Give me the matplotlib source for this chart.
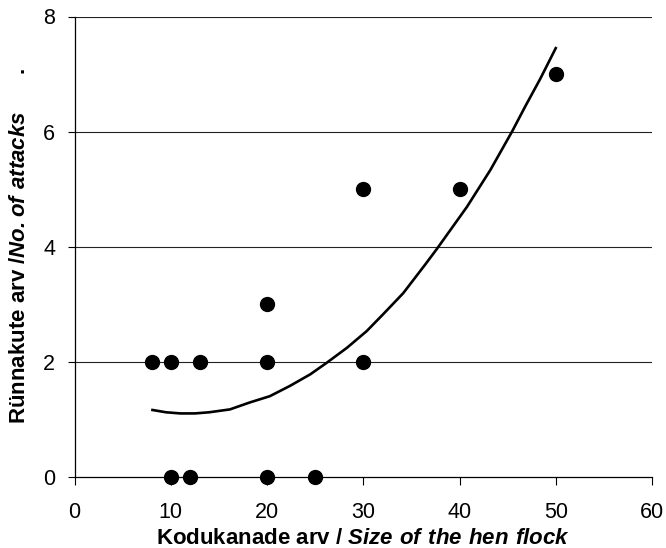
import numpy as np
import matplotlib.pyplot as plt

plt.rcParams['font.family'] = ['Liberation Sans', 'DejaVu Sans']
plt.rcParams['mathtext.fontset'] = 'custom'
plt.rcParams['mathtext.rm'] = 'Liberation Sans'
plt.rcParams['mathtext.bf'] = 'Liberation Sans:bold'
plt.rcParams['mathtext.bfit'] = 'Liberation Sans:italic:bold'

# vaatlused (kodukanade arv, rünnakute arv)
flock = [8, 10, 13, 10, 12, 20, 20, 20, 25, 30, 30, 40, 50]
attacks = [2, 2, 2, 0, 0, 0, 2, 3, 0, 5, 2, 5, 7]

# trendijoon, loetud pildilt
curve_x = [8.1, 9.5, 11.0, 12.5, 14.0, 16.15, 18.2, 20.3, 22.4, 24.5, 26.2,
           28.3, 30.35, 32.1, 34.15, 36.4, 37.65, 40.77, 43.2, 45.46, 46.84,
           48.4, 50.0]
curve_y = [1.16, 1.12, 1.10, 1.10, 1.12, 1.17, 1.29, 1.40, 1.58, 1.78, 1.98,
           2.24, 2.53, 2.83, 3.19, 3.68, 3.96, 4.69, 5.33, 6.00, 6.44,
           6.92, 7.45]

xticks = [0, 10, 20, 30, 40, 50, 60]
yticks = [0, 2, 4, 6, 8]

fig = plt.figure(figsize=(6.66, 5.48), dpi=100)
ax = fig.add_axes([74.5/666, 1-476.7/548, (652-74.5)/666, (476.7-16.5)/548])

for yv in yticks[1:]:
    ax.axhline(yv, color='#222222', lw=0.8, zorder=1)

ax.plot(curve_x, curve_y, color='black', lw=1.9, zorder=2)
ax.plot(flock, attacks, 'o', color='black', ms=10, zorder=3, clip_on=False)

ax.set_xlim(0, 60)
ax.set_ylim(0, 8)
ax.set_xticks(xticks)
ax.set_yticks(yticks)
ax.spines['top'].set_visible(False)
ax.spines['right'].set_visible(False)
for s in ['left', 'bottom']:
    ax.spines[s].set_linewidth(0.9)
ax.tick_params(axis='x', direction='out', length=5.5, width=0.8, pad=13, labelsize=15.5)
ax.tick_params(axis='y', direction='out', length=5, width=0.8, pad=9, labelsize=15.5)

ax.set_xlabel(r'Kodukanade arv / $\mathbfit{Size\ of\ the\ hen\ flock}$',
              fontsize=16, fontweight='bold', labelpad=3)
ax.set_ylabel(r'Rünnakute arv /$\mathbfit{No.of\ attacks}$' + '      .',
              fontsize=16, fontweight='bold', labelpad=9)

plt.savefig('out.png', dpi=100)
